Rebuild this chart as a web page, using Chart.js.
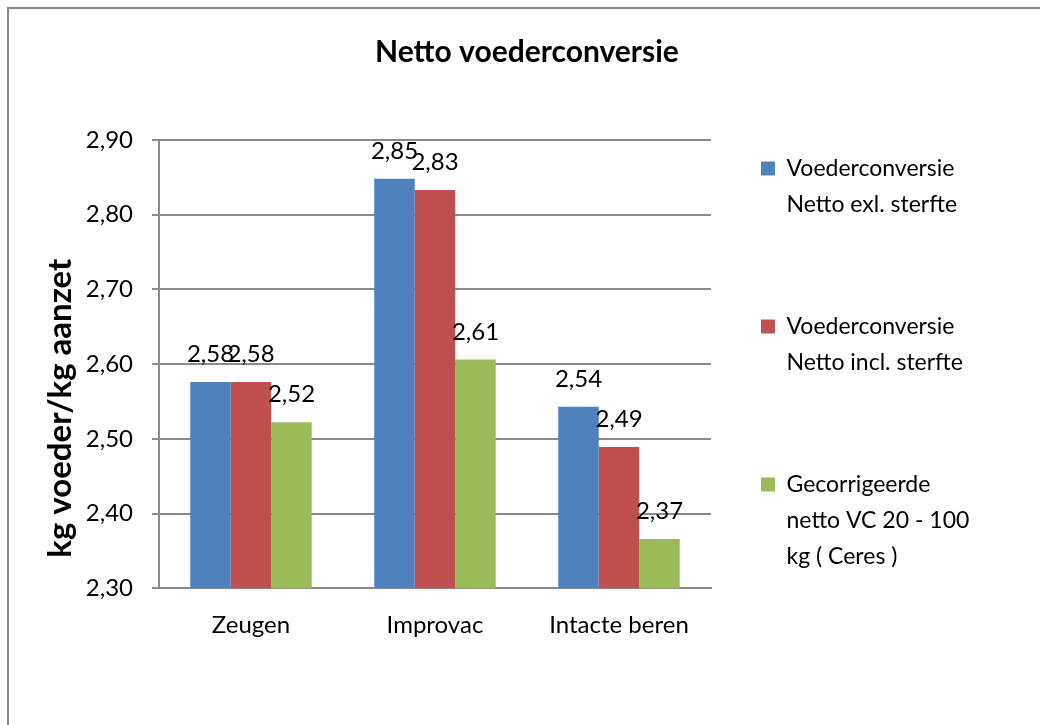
<!DOCTYPE html>
<html>
<head>
<meta charset="utf-8">
<script src="https://cdn.jsdelivr.net/npm/chart.js@4"></script>
<style>
  html, body { margin: 0; padding: 0; background: #fff; overflow: hidden; }
  #frame { position: absolute; left: 7px; top: 7px; width: 1100px; height: 800px; border: 2px solid #8a8a8a; }
  #wrap { position: absolute; left: 0; top: 0; width: 1040px; height: 725px; }
</style>
</head>
<body>
<div id="frame"></div>
<div id="wrap"><canvas id="chart" width="1040" height="725"></canvas></div>
<script>
const categories = ['Zeugen', 'Improvac', 'Intacte beren'];
const exlSterfte = [2.576, 2.848, 2.543];
const inclSterfte = [2.576, 2.833, 2.489];
const gecorrigeerd = [2.522, 2.606, 2.366];
const seriesLines = [
  ['Voederconversie', 'Netto exl. sterfte'],
  ['Voederconversie', 'Netto incl. sterfte'],
  ['Gecorrigeerde', 'netto VC 20 - 100', 'kg ( Ceres )'],
];
const seriesColors = ['#4f81bd', '#c0504d', '#9bbb59'];
const yTicks = { min: 2.3, max: 2.9, step: 0.1 };

const gridColor = '#8a8a8a';
const fmt = (v) => v.toFixed(2).replace('.', ',');

Chart.defaults.font.family = 'Lato';
Chart.defaults.color = '#000';

// value labels above each bar
const barLabels = {
  id: 'barLabels',
  afterDatasetsDraw(chart) {
    const ctx = chart.ctx;
    ctx.save();
    ctx.font = '24px Lato';
    ctx.fillStyle = '#000';
    ctx.textAlign = 'center';
    ctx.textBaseline = 'alphabetic';
    chart.data.datasets.forEach((ds, i) => {
      chart.getDatasetMeta(i).data.forEach((bar, j) => {
        ctx.fillText(fmt(ds.data[j]), bar.x, bar.y - 20);
      });
    });
    ctx.restore();
  },
};

const seriesData = [exlSterfte, inclSterfte, gecorrigeerd];

new Chart(document.getElementById('chart'), {
  type: 'bar',
  data: {
    labels: categories,
    datasets: seriesData.map((d, i) => ({
      label: seriesLines[i].join(' '),
      data: d,
      backgroundColor: seriesColors[i],
      borderColor: seriesColors[i],
      borderWidth: 0,
      categoryPercentage: 0.66,
      barPercentage: 1.0,
    })),
  },
  options: {
    responsive: false,
    animation: false,
    layout: { padding: { top: 0, bottom: 62, left: 0, right: 59 } },
    plugins: {
      tooltip: { enabled: false },
      title: {
        display: true,
        text: '          Netto voederconversie',
        font: { size: 30, weight: 'bold' },
        color: '#000',
        padding: { top: 34, bottom: 70 },
      },
      legend: {
        position: 'right',
        align: 'center',
        maxWidth: 270,
        title: { display: true, text: '', font: { size: 10, lineHeight: 1 }, padding: { top: 65, bottom: 0 } },
        labels: {
          boxWidth: 14,
          boxHeight: 14,
          padding: 50,
          color: '#000',
          font: { size: 23, lineHeight: '36px' },
          generateLabels(chart) {
            const items = Chart.defaults.plugins.legend.labels.generateLabels(chart);
            items.forEach((it, i) => {
              const lines = seriesLines[i].slice();
              // keep the legend wide enough so no line gets clipped
              if (i === 1) lines[1] += '        ';
              it.text = i < items.length - 1 ? [...lines, ''] : lines;
            });
            return items;
          },
        },
      },
    },
    scales: {
      x: {
        grid: { display: false, drawTicks: false },
        border: { color: gridColor, width: 2 },
        ticks: { font: { size: 24 }, padding: 23, color: '#000' },
      },
      y: {
        min: yTicks.min,
        max: yTicks.max,
        afterFit(scale) { scale.width = 159; },
        grid: { color: gridColor, lineWidth: 2, tickLength: 7 },
        border: { color: gridColor, width: 2 },
        ticks: {
          stepSize: yTicks.step,
          padding: 19,
          font: { size: 24 },
          color: '#000',
          callback: (v) => fmt(v),
        },
        title: {
          display: true,
          text: 'kg voeder/kg aanzet           ',
          font: { size: 33, weight: 'bold' },
          color: '#000',
          padding: { top: 41, bottom: 0 },
        },
      },
    },
  },
  plugins: [barLabels],
});
</script>
</body>
</html>
